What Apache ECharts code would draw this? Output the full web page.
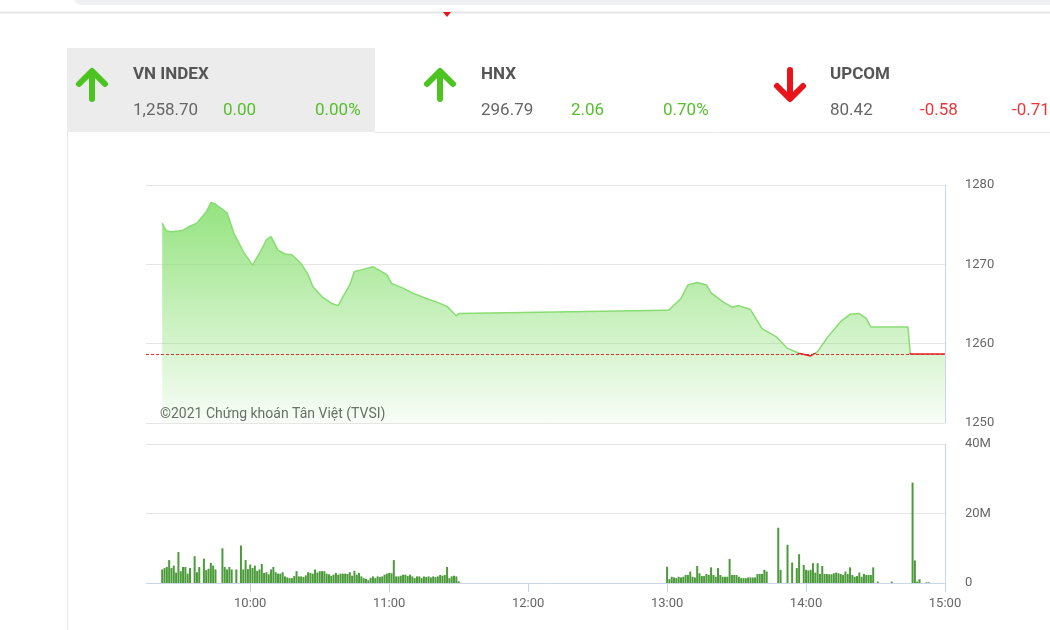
<!DOCTYPE html>
<html>
<head>
<meta charset="utf-8">
<script src="https://cdn.jsdelivr.net/npm/echarts@6/dist/echarts.min.js"></script>
<style>
html,body{margin:0;padding:0;background:#fff;}
#chart{width:1050px;height:630px;}
</style>
</head>
<body>
<div id="chart"></div>
<script>
// ---- Data ----
const priceTimes = ['09:22','09:23','09:24','09:26','09:29','09:31','09:34','09:37','09:41','09:43','09:45','09:50','09:53','09:57','10:01','10:04','10:07','10:09','10:12','10:15','10:18','10:22','10:25','10:27','10:31','10:35','10:38','10:40','10:43','10:45','10:48','10:53','10:59','11:01','11:06','11:10','11:16','11:20','11:25','11:29','11:30','13:00','13:01','13:06','13:09','13:13','13:17','13:19','13:24','13:28','13:31','13:36','13:41','13:47','13:52','13:57','14:02','14:05','14:09','14:15','14:19','14:23','14:26','14:28','14:44','14:45','15:00'];
const priceValues = [1275.2,1274.6,1274.2,1274.1,1274.2,1274.3,1274.8,1275.2,1276.6,1277.8,1277.6,1276.5,1273.9,1271.6,1269.9,1271.4,1273.1,1273.5,1271.8,1271.3,1271.2,1270.1,1268.7,1267.2,1265.9,1265.1,1264.8,1265.9,1267.4,1269.1,1269.3,1269.7,1268.7,1267.6,1267.0,1266.4,1265.7,1265.3,1264.7,1263.5,1263.8,1264.2,1264.3,1265.7,1267.4,1267.7,1267.4,1266.4,1265.3,1264.6,1264.8,1264.3,1261.9,1260.9,1259.4,1258.8,1258.45,1259.0,1260.7,1262.8,1263.7,1263.8,1263.2,1262.1,1262.1,1258.7,1258.7];
const refPrice = 1258.70;

// volume (millions), one value per minute
const amStart = '09:22';
const amVol = [3.9,4.3,4.6,6.6,4.3,5.0,3.0,8.9,3.4,4.6,4.6,2.7,4.3,null,7.7,3.1,4.6,null,7.0,3.7,4.1,5.8,5.0,3.9,null,null,10.0,4.6,3.9,4.6,3.9,null,3.9,null,10.8,3.9,6.6,4.0,5.3,4.3,5.0,3.5,3.9,5.5,2.9,3.1,2.5,3.9,4.6,3.1,2.7,2.7,3.1,1.9,1.6,1.4,1.4,2.0,3.4,1.9,1.9,1.7,2.2,3.1,2.9,2.7,3.9,3.0,3.4,3.4,3.4,2.7,2.5,2.1,2.4,2.9,2.4,2.7,2.7,2.7,2.6,3.1,2.1,3.5,2.4,2.9,1.9,1.4,1.2,0.8,1.5,1.9,1.4,1.9,1.7,1.9,2.4,2.7,2.9,2.8,6.6,1.9,1.9,2.1,2.4,2.4,2.0,2.4,1.9,1.4,1.9,1.9,1.4,1.9,1.7,1.9,1.6,1.9,1.7,1.9,2.3,2.1,2.3,4.6,1.4,1.9,2.1,1.9,0.5];
const pmStart = '13:00';
const pmVol = [4.7,1.1,1.8,1.6,1.4,1.8,1.6,1.8,2.3,2.3,3.3,1.8,1.6,4.9,2.8,2.0,2.0,2.6,2.3,4.5,2.3,1.8,4.3,2.3,1.8,1.8,1.8,6.9,2.3,2.3,2.3,1.8,1.4,1.4,1.4,1.6,1.6,1.6,1.6,2.6,2.6,2.6,3.8,3.3,null,null,null,null,15.9,3.8,null,null,11.0,null,5.9,null,4.3,8.3,null,5.2,3.8,3.6,3.8,5.7,3.0,5.7,2.6,4.9,2.6,2.6,2.5,2.5,2.8,3.0,2.8,2.6,2.3,3.3,2.6,4.5,2.3,1.8,2.0,3.0,1.8,2.6,2.3,2.3,2.3,4.5,null,0.4,null,null,null,null,null,0.4,null,null,null,null,null,null,null,null,28.9,6.5,0.4,1.1,null,null,0.2,0.2];

const hourTicks = ['10:00','11:00','12:00','13:00','14:00','15:00'];
const axisStart = '09:15', axisEnd = '15:00';
const priceTicks = [1250,1260,1270,1280];
const volTicks = [0,20,40];

const header = [
  {name:'VN INDEX', value:'1,258.70', change:'0.00', pct:'0.00%', up:true},
  {name:'HNX', value:'296.79', change:'2.06', pct:'0.70%', up:true},
  {name:'UPCOM', value:'80.42', change:'-0.58', pct:'-0.71%', up:false}
];
const copyright = '©2021 Chứng khoán Tân Việt (TVSI)';

// ---- Build ----
function toMin(s){const p=s.split(':');return (+p[0])*60+(+p[1]);}
function fmt(m){const h=Math.floor(m/60),mm=m%60;return (h<10?'0':'')+h+':'+(mm<10?'0':'')+mm;}
const priceData = priceTimes.map((t,i)=>[toMin(t),priceValues[i]]);
const volData = [];
amVol.forEach((v,i)=>{ if(v!==null) volData.push([toMin(amStart)+i, v]); });
pmVol.forEach((v,i)=>{ if(v!==null) volData.push([toMin(pmStart)+i, v]); });
const tickMins = hourTicks.map(toMin);

const GREEN='#4cc41f', RED='#e8141a', TXTG='#55bf2c', TXTR='#e8373a';
const LINE_G='#88dc72', LINE_R='#e32222';
const FONT='Roboto';

const graphics = [
  {type:'rect', shape:{x:74,y:-10,width:1000,height:15,r:7}, style:{fill:'#eff0f2'}},
  {type:'line', shape:{x1:0,y1:12.5,x2:1050,y2:12.5}, style:{stroke:'#e6e6e6',lineWidth:2}},
  {type:'polygon', shape:{points:[[443,12],[451,12],[447,17]]}, style:{fill:'#e8141a'}},
  {type:'rect', shape:{x:67,y:48,width:308,height:84}, style:{fill:'#ececec'}},
  {type:'line', shape:{x1:375,y1:132.5,x2:1050,y2:132.5}, style:{stroke:'#e8e8e8',lineWidth:1}},
  {type:'line', shape:{x1:67.5,y1:132,x2:67.5,y2:630}, style:{stroke:'#e8e8e8',lineWidth:1}},
  {type:'text', x:160, y:414, style:{text:copyright, fill:'#666', font:'14px '+FONT, textVerticalAlign:'middle'}}
];
const cols = [{ax:92, tx:133}, {ax:440, tx:481}, {ax:790, tx:830}];
header.forEach((h,i)=>{
  const c = cols[i];
  if(h.up){
    graphics.push({type:'polyline', shape:{points:[[c.ax-13,84],[c.ax,71],[c.ax+13,84]]}, style:{stroke:GREEN,lineWidth:6,lineCap:'round',lineJoin:'round',fill:null}});
    graphics.push({type:'line', shape:{x1:c.ax,y1:72,x2:c.ax,y2:99}, style:{stroke:GREEN,lineWidth:6,lineCap:'round'}});
  } else {
    graphics.push({type:'polyline', shape:{points:[[c.ax-13,86],[c.ax,99],[c.ax+13,86]]}, style:{stroke:RED,lineWidth:6,lineCap:'round',lineJoin:'round',fill:null}});
    graphics.push({type:'line', shape:{x1:c.ax,y1:70,x2:c.ax,y2:98}, style:{stroke:RED,lineWidth:6,lineCap:'round'}});
  }
  const col = h.up ? TXTG : TXTR;
  graphics.push({type:'text', x:c.tx, y:75, style:{text:h.name, fill:'#555', font:'bold 17px '+FONT, textVerticalAlign:'middle'}});
  graphics.push({type:'text', x:c.tx, y:111, style:{text:h.value, fill:'#666', font:'17px '+FONT, textVerticalAlign:'middle'}});
  graphics.push({type:'text', x:c.tx+90, y:111, style:{text:h.change, fill:col, font:'17px '+FONT, textVerticalAlign:'middle'}});
  graphics.push({type:'text', x:c.tx+182, y:111, style:{text:h.pct, fill:col, font:'17px '+FONT, textVerticalAlign:'middle'}});
});

const chart = echarts.init(document.getElementById('chart'), null, {renderer:'canvas'});
const option = {
  animation:false,
  backgroundColor:'#fff',
  textStyle:{fontFamily:FONT},
  grid:[
    {left:146, right:105, top:185, height:238},
    {left:146, right:105, top:444, height:139}
  ],
  xAxis:[
    {gridIndex:0, type:'value', min:toMin(axisStart), max:toMin(axisEnd),
     axisLine:{show:false}, axisTick:{show:false}, axisLabel:{show:false}, splitLine:{show:false}},
    {gridIndex:1, type:'value', min:toMin(axisStart), max:toMin(axisEnd),
     axisLine:{show:true, lineStyle:{color:'#ccd6eb'}},
     axisTick:{show:true, customValues:tickMins, length:9, lineStyle:{color:'#ccd6eb'}},
     axisLabel:{show:true, customValues:tickMins, formatter:v=>fmt(v), color:'#666', fontSize:13, margin:14, fontFamily:FONT},
     splitLine:{show:false}}
  ],
  yAxis:[
    {gridIndex:0, type:'value', position:'right', min:priceTicks[0], max:priceTicks[priceTicks.length-1], interval:10,
     axisLine:{show:true, lineStyle:{color:'#ccd6eb'}}, axisTick:{show:false},
     axisLabel:{color:'#666', fontSize:13, margin:20, fontFamily:FONT, formatter:v=>String(v), padding:[4,0,0,0]},
     splitLine:{lineStyle:{color:'#e6e6e6'}}},
    {gridIndex:1, type:'value', position:'right', min:volTicks[0], max:volTicks[volTicks.length-1], interval:20,
     axisLine:{show:true, lineStyle:{color:'#ccd6eb'}}, axisTick:{show:false},
     axisLabel:{color:'#666', fontSize:13, margin:20, fontFamily:FONT, formatter:v=>v===0?'0':v+'M', padding:[4,0,0,0]},
     splitLine:{lineStyle:{color:'#e6e6e6'}}}
  ],
  series:[
    {type:'line', xAxisIndex:0, yAxisIndex:0, data:priceData, showSymbol:false, z:3,
     lineStyle:{width:1.5, color:LINE_G},
     areaStyle:{color:new echarts.graphic.LinearGradient(0,0,0,1,[
       {offset:0, color:'rgba(130,222,105,0.85)'},
       {offset:1, color:'rgba(130,222,105,0.05)'}]), opacity:1},
     markLine:{silent:true, symbol:['none','none'], label:{show:false},
       lineStyle:{color:'#e53030', type:[3,2], width:1}, data:[{yAxis:refPrice}]}
    },
    {type:'bar', xAxisIndex:1, yAxisIndex:1, data:volData, barWidth:2,
     itemStyle:{color:'#4b9b3a'}}
  ],
  graphic:graphics
};
chart.setOption(option);

// colour the price line red where it is at/below the reference price
const yRef = chart.convertToPixel({yAxisIndex:0}, refPrice);
if (isFinite(yRef)) {
  const off = Math.min(1, Math.max(0, (yRef - 0.8) / 630));
  chart.setOption({series:[{lineStyle:{color:new echarts.graphic.LinearGradient(0,0,0,630,[
    {offset:0, color:LINE_G},{offset:off, color:LINE_G},{offset:off, color:LINE_R},{offset:1, color:LINE_R}], true)}}]});
}
</script>
</body>
</html>
